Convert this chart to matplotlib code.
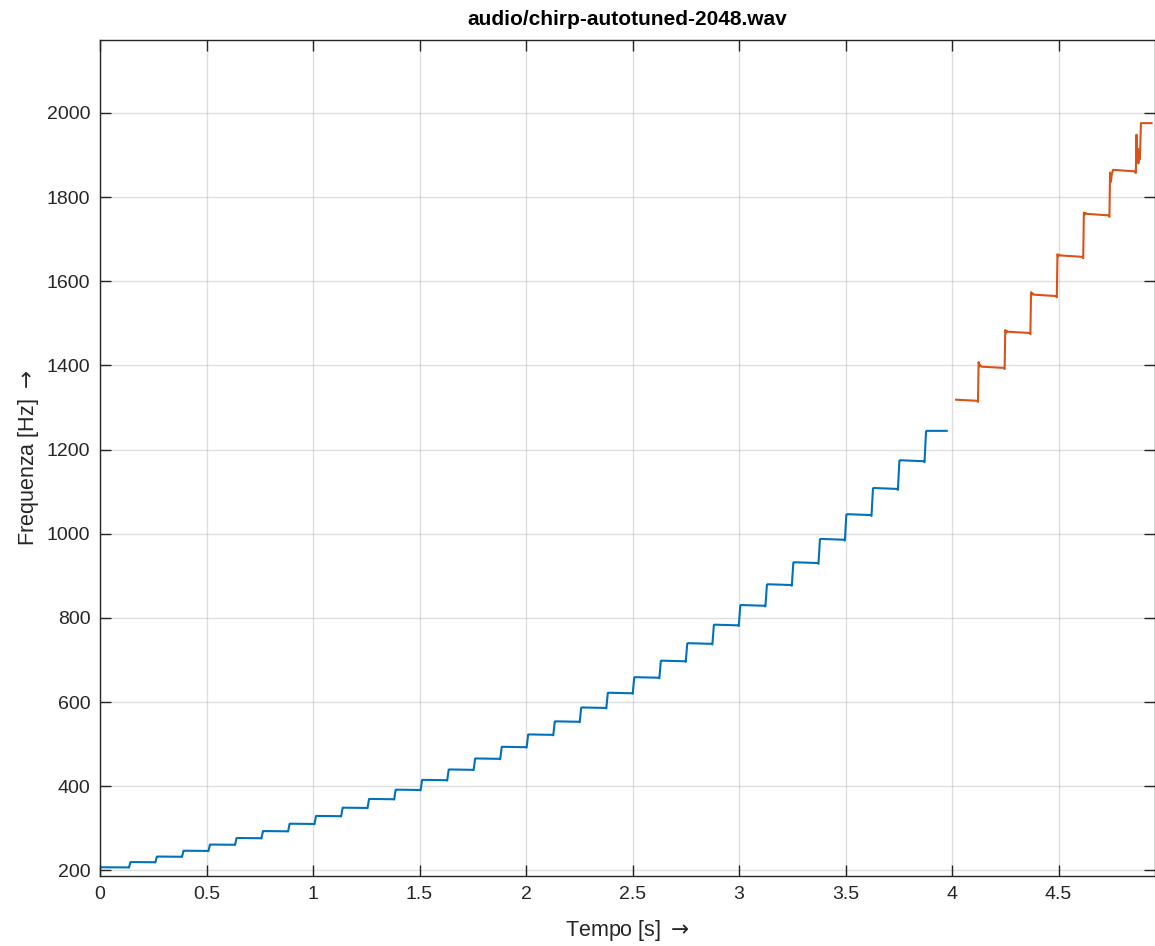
import numpy as np
import matplotlib; matplotlib.use("Agg")
import matplotlib.pyplot as plt

plt.rcParams.update({"font.family": ["Liberation Sans", "DejaVu Sans"], "font.size": 14,
                     "mathtext.fontset": "dejavusans"})

# note frequencies (Hz) of each held step, blue part (t < 4 s)
blue_levels = [207.65, 220.00, 233.08, 246.94, 261.63, 277.18, 293.66, 311.13,
               329.63, 349.23, 369.99, 392.00, 415.30, 440.00, 466.16, 493.88,
               523.25, 554.37, 587.33, 622.25, 659.26, 698.46, 739.99, 783.99,
               830.61, 880.00, 932.33, 987.77, 1046.50, 1108.73, 1174.66, 1244.51]
# times (s) where the blue line jumps to the next step
blue_edges = [0.137, 0.261, 0.386, 0.510, 0.635, 0.759, 0.884, 1.008, 1.133, 1.257,
              1.382, 1.506, 1.631, 1.755, 1.880, 2.004, 2.129, 2.253, 2.378, 2.502,
              2.627, 2.751, 2.876, 3.000, 3.125, 3.249, 3.374, 3.498, 3.623, 3.747,
              3.872]
blue_span = (0.0, 3.975)

# orange part (t > 4 s)
orange_levels = [1318.51, 1396.91, 1479.98, 1567.98, 1661.22, 1760.00, 1864.66, 1975.53]
orange_edges = [4.123, 4.248, 4.369, 4.493, 4.617, 4.740, 4.864]
orange_peaks = [1408, 1484, 1574, 1664, 1763, 1858, 1948]   # overshoot right after each jump
orange_dips = [1398, 1478, 1568, 1659, 1758, 1836, 1886]    # value just after the overshoot
orange_span = (4.019, 4.937)
last_jump = 4.884


def steps(levels, edges, span, peaks=None, dips=None, final=None):
    t = [span[0]]; f = [levels[0]]
    for i, e in enumerate(edges):
        t += [e - 0.005, e - 0.001]; f += [levels[i] * 0.998, levels[i] * 0.996]
        if peaks is None:
            t += [e + 0.006, e + 0.010]; f += [levels[i + 1] * 0.999, levels[i + 1]]
        elif final is not None and i == len(edges) - 1:
            t += [e + 0.002, e + 0.005, e + 0.008, e + 0.011, e + 0.014, final - 0.002, final + 0.003]
            f += [peaks[i], dips[i], 1915, 1880, 1905, 1890, levels[i + 1]]
        else:
            t += [e + 0.002, e + 0.006, e + 0.010, e + 0.016]
            f += [peaks[i], dips[i], (levels[i + 1] + dips[i]) / 2 + 3, levels[i + 1]]
    t.append(span[1]); f.append(levels[-1])
    return np.array(t), np.array(f)


bt, bf = steps(blue_levels, blue_edges, blue_span)
ot, of = steps(orange_levels, orange_edges, orange_span, orange_peaks, orange_dips, last_jump)

fig = plt.figure(figsize=(11.55, 9.46), dpi=100)
ax = fig.add_axes([100 / 1155, 1 - 876 / 946, 1055 / 1155, 836 / 946])
ax.plot(bt, bf, color="#0072BD", lw=1.5)
ax.plot(ot, of, color="#D95319", lw=1.5)

fmin = min(blue_levels); fmax = max(orange_levels)
ax.set_xlim(0, 4.953)
ax.set_ylim(0.9 * fmin, 1.1 * fmax)
ax.set_xticks(np.arange(0, 4.51, 0.5))
ax.set_xticklabels(["0", "0.5", "1", "1.5", "2", "2.5", "3", "3.5", "4", "4.5"])
ax.set_yticks(np.arange(200, 2001, 200))

ax.grid(True, color="#262626", alpha=0.15, lw=1.0)
ax.tick_params(direction="in", length=8, width=1.0, colors="#262626", labelsize=14,
               top=True, right=True, pad=7)
for s in ax.spines.values():
    s.set_color("#262626"); s.set_linewidth(1.0)

ax.set_xlabel(r"Tempo [s] $\rightarrow$", fontsize=15.5, color="#262626", labelpad=11)
ax.set_ylabel(r"Frequenza [Hz] $\rightarrow$", fontsize=15.5, color="#262626", labelpad=4)
ax.set_title("audio/chirp-autotuned-2048.wav", fontsize=15, fontweight="bold", pad=11)

fig.savefig("out.png", dpi=100)
